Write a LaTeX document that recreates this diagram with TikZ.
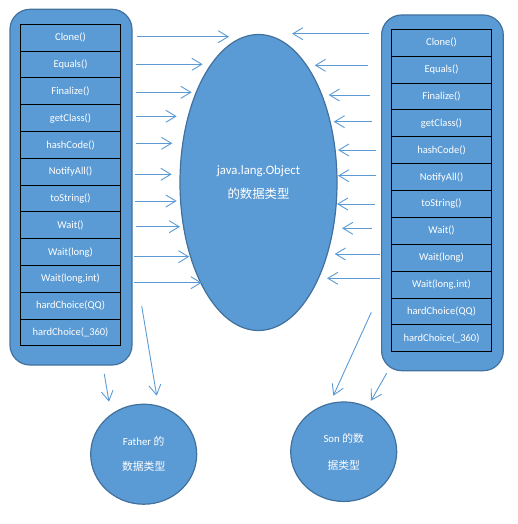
\documentclass[tikz,border=0pt]{standalone}
\usepackage{fontspec}
\setmainfont{Carlito}
\newfontfamily\cjk{Noto Sans CJK SC}
\usetikzlibrary{arrows.meta,shapes.geometric}
\definecolor{fillblue}{HTML}{5B9BD5}
\definecolor{edgeblue}{HTML}{41719C}
\definecolor{arrowblue}{HTML}{5B9BD5}
\begin{document}
\begin{tikzpicture}[x=1pt,y=-1pt,
  container/.style={draw=edgeblue, line width=1.2pt, fill=fillblue, rounded corners=20pt},
  rowbox/.style={draw=black, line width=0.9pt, fill=fillblue, minimum width=100pt, minimum height=26.85pt,
    inner sep=0pt, outer sep=0pt, text=white, font=\fontsize{10.5}{12}\selectfont},
  blob/.style={ellipse, draw=edgeblue, line width=1.2pt, fill=fillblue, inner sep=0pt, text=white, align=center},
  arr/.style={draw=arrowblue, line width=0.9pt, -{Straight Barb[length=10pt,width=12pt]}}]
\useasboundingbox (0,0) rectangle (517,524);

% containers
\draw[container] (10,9.3) rectangle (132,365);
\draw[container] (381.6,15) rectangle (503.3,370.7);

% rows
\foreach \i/\t in {1/Clone(),2/Equals(),3/Finalize(),4/getClass(),5/hashCode(),6/NotifyAll(),7/toString(),8/Wait(),9/Wait(long),10/{Wait(long,int)},11/hardChoice(QQ),12/hardChoice(\_360)}{
  \node[rowbox] (L\i) at (70.5,{24.3+26.8*(\i-0.5)}) {\t};
  \node[rowbox] (R\i) at (441.5,{29.3+26.87*(\i-0.5)}) {\t};
}

% central ellipse
\node[blob, minimum width=157pt, minimum height=296pt, font=\fontsize{12.8}{24.3}\selectfont] (obj) at (258.5,182.5)
  {java.lang.Object\\{\cjk\fontsize{12.4}{24.3}\selectfont 的数据类型}};

% small circles
\node[blob, minimum width=106pt, minimum height=100pt, font=\fontsize{10.8}{25}\selectfont] (father) at (143.7,454.2)
  {Father {\cjk 的}\\{\cjk 数据类型}};
\node[blob, minimum width=106pt, minimum height=99.5pt, font=\fontsize{10.8}{26.7}\selectfont] (son) at (343.7,451.7)
  {Son {\cjk 的数}\\{\cjk 据类型}};

% left arrows
\foreach \i/\xs/\xe/\yy in {1/136.7/229/36.7, 2/136/202.7/64.3, 3/136/191.7/92.3, 4/136/176.7/116.3,
  5/136/172.3/143.3, 6/135/171.7/174.3, 7/135/176.7/201, 8/136/180/226.7, 9/134.3/189.3/256.7, 10/134.3/201.7/282.7}{
  \coordinate (las\i) at (\xs,\yy);
  \coordinate (lae\i) at (\xe,\yy);
  \draw[arr] (las\i) -- (lae\i);
}
% right arrows
\foreach \i/\xs/\xe/\yy in {1/368.7/292/33.7, 2/368/314.7/65.3, 3/369.7/328.7/95, 4/372/333.7/121.7,
  5/376/338/150, 6/376/338/175.7, 7/375.3/337/204, 8/372/342/228.3, 9/379.7/334.7/254, 10/380/327/278.3}{
  \coordinate (ras\i) at (\xs,\yy);
  \coordinate (rae\i) at (\xe,\yy);
  \draw[arr] (ras\i) -- (rae\i);
}

% downward arrows
\coordinate (fa1) at (104.3,374);   \coordinate (fb1) at (109,401.7);
\coordinate (fa2) at (141.7,306);   \coordinate (fb2) at (156.7,395.7);
\coordinate (sa1) at (371.3,312.3); \coordinate (sb1) at (333.3,395.7);
\coordinate (sa2) at (386.7,373.3); \coordinate (sb2) at (371,400.7);
\draw[arr] (fa1) -- (fb1);
\draw[arr] (fa2) -- (fb2);
\draw[arr] (sa1) -- (sb1);
\draw[arr] (sa2) -- (sb2);
\end{tikzpicture}
\end{document}
